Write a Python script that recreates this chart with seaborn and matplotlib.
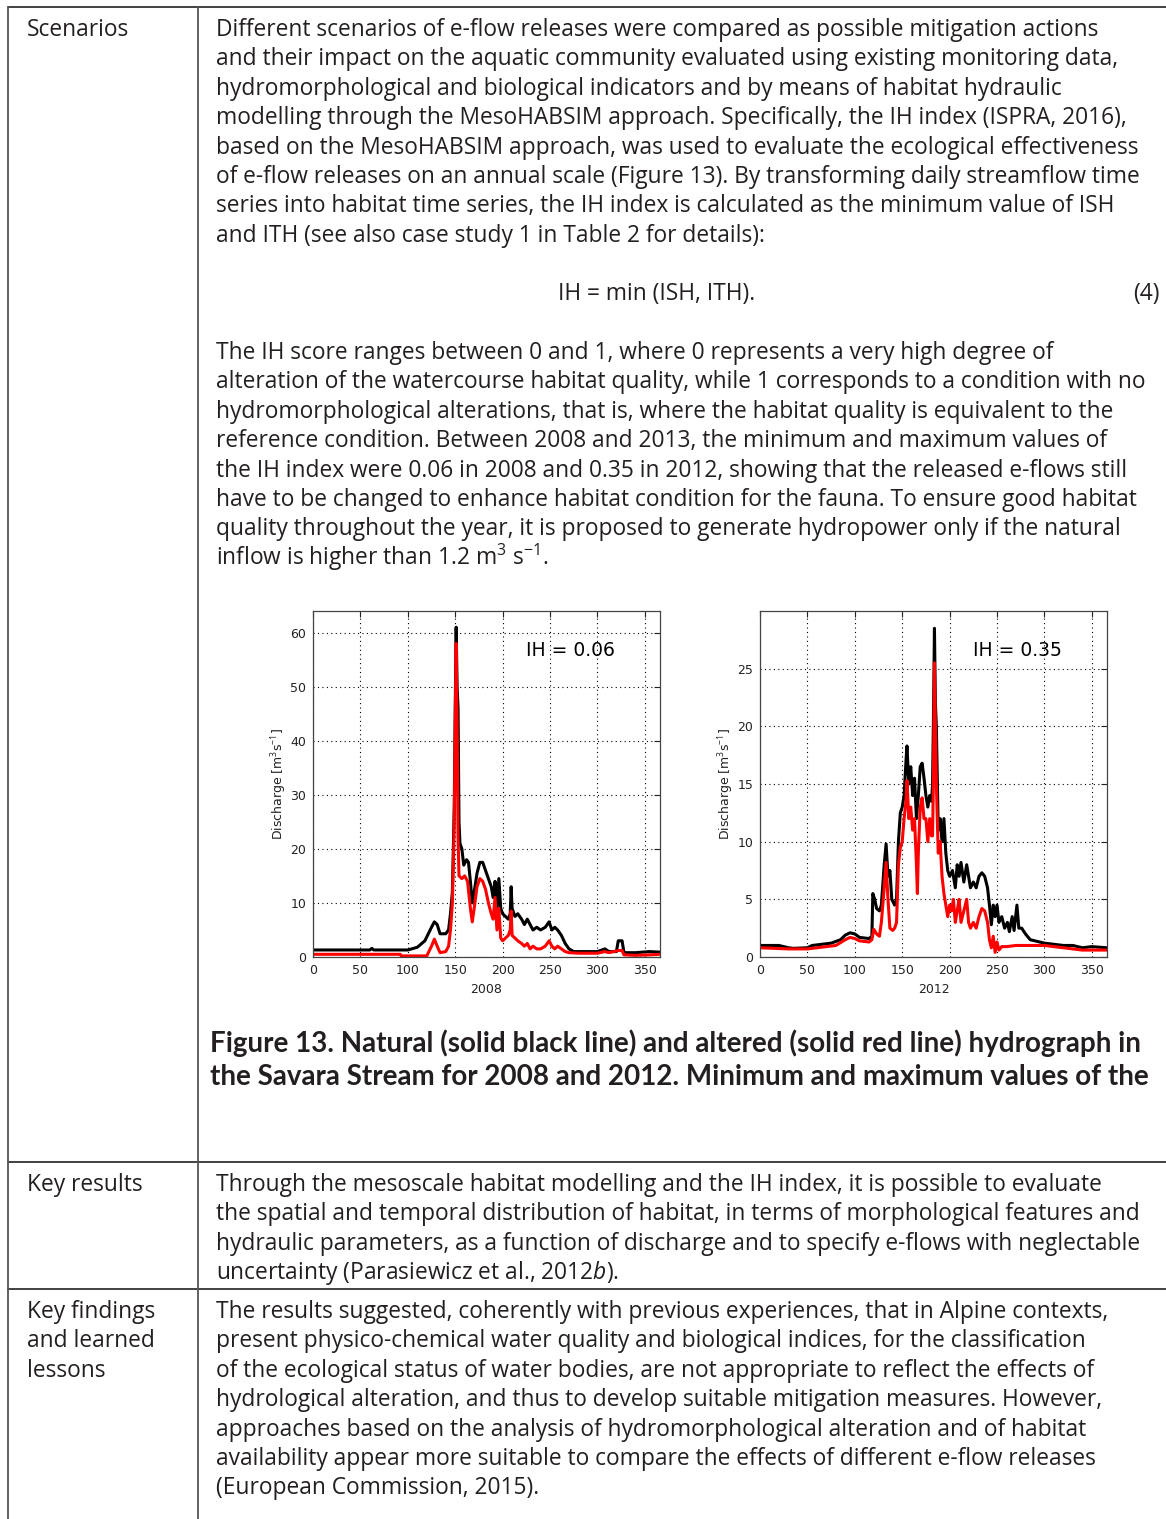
import numpy as np
import pandas as pd
import seaborn as sns
import matplotlib.pyplot as plt
from matplotlib.lines import Line2D

# ---- hydrograph data (day of year, discharge m3/s) ----
days_08_nat = [0, 20, 40, 60, 62, 64, 80, 100, 110, 118, 125, 128, 131, 134, 140, 143, 145, 147, 148,
               149, 150, 151, 152, 153, 154, 155, 157, 159, 162, 164, 166, 168, 170, 173, 176, 179,
               182, 185, 188, 190, 192, 194, 196, 198, 200, 203, 206, 208, 209, 210, 213, 216, 220,
               223, 226, 229, 232, 236, 240, 245, 249, 252, 255, 258, 262, 266, 270, 275, 300, 308,
               312, 320, 322, 326, 328, 340, 355, 366]
q_08_nat = [1.3, 1.3, 1.3, 1.3, 1.6, 1.3, 1.3, 1.3, 1.8, 3.0, 5.5, 6.5, 6.0, 4.3, 4.3, 5.0, 8.0, 12.0, 20.0,
            28.0, 46.0, 61.0, 50.0, 46.0, 25.0, 21.0, 20.0, 17.0, 18.0, 17.5, 14.0, 10.0, 12.0, 15.5, 17.5, 17.5,
            16.0, 14.5, 13.0, 11.0, 14.0, 8.0, 14.5, 9.0, 8.0, 7.5, 7.0, 8.0, 13.0, 9.0, 7.5, 8.0, 7.0,
            6.0, 7.0, 6.0, 5.0, 5.5, 5.0, 5.5, 6.5, 5.0, 5.5, 5.0, 4.0, 2.5, 1.5, 1.0, 1.0, 1.5,
            1.0, 1.0, 3.0, 3.0, 0.8, 0.8, 1.0, 0.9]

days_08_alt = [0, 60, 92, 93, 120, 125, 128, 131, 134, 140, 143, 145, 147, 148, 149, 150, 151, 152, 153,
               154, 157, 160, 163, 166, 168, 170, 173, 176, 179, 182, 185, 188, 190, 192, 194, 196, 198,
               200, 203, 206, 208, 209, 210, 213, 216, 220, 223, 226, 229, 232, 236, 240, 245, 249, 252,
               255, 258, 262, 266, 270, 280, 300, 308, 312, 322, 326, 328, 340, 355, 366]
q_08_alt = [0.5, 0.5, 0.5, 0.2, 0.2, 2.0, 3.3, 2.0, 0.8, 1.0, 2.0, 5.0, 10.0, 17.0, 25.0, 43.0, 58.0, 43.0, 22.0,
            15.0, 14.5, 15.0, 14.0, 9.0, 6.5, 9.0, 13.0, 14.5, 14.0, 12.5, 10.0, 8.0, 7.0, 11.0, 5.0, 9.0, 3.5,
            3.0, 3.5, 4.0, 5.0, 8.5, 4.0, 3.5, 3.0, 2.5, 2.0, 2.5, 1.5, 2.0, 1.5, 1.5, 2.0, 3.0, 2.0,
            1.5, 2.0, 1.5, 1.0, 0.8, 0.7, 0.7, 1.0, 0.8, 1.2, 1.2, 0.4, 0.3, 0.4, 0.5]

days_12_nat = [0, 10, 20, 30, 35, 50, 55, 65, 75, 85, 90, 95, 100, 105, 115, 118, 119, 121, 123, 126, 128,
               131, 133, 135, 137, 139, 142, 144, 146, 148, 150, 152, 154, 155, 157, 159, 161, 163, 165,
               167, 169, 171, 173, 175, 177, 179, 181, 182, 183, 184, 185, 186, 188, 190, 192, 194, 196,
               198, 200, 203, 206, 208, 210, 212, 215, 218, 220, 222, 225, 228, 231, 234, 237, 240, 242,
               244, 246, 248, 250, 252, 255, 258, 261, 263, 266, 268, 271, 273, 276, 280, 285, 290, 295,
               300, 310, 320, 330, 340, 350, 366]
q_12_nat = [1.0, 1.0, 1.0, 0.8, 0.75, 0.8, 1.0, 1.1, 1.2, 1.5, 1.9, 2.1, 2.0, 1.7, 1.6, 1.8, 5.5, 5.0, 4.2, 4.0, 4.5,
            8.0, 9.8, 7.0, 7.5, 5.0, 4.5, 5.0, 10.0, 12.5, 13.0, 14.0, 17.0, 18.3, 15.0, 16.5, 14.0, 15.5, 12.0,
            14.0, 16.5, 16.8, 15.5, 14.0, 13.0, 14.0, 13.5, 15.0, 21.0, 28.5, 22.0, 20.0, 11.0, 12.0, 10.0, 12.0, 9.0,
            7.5, 7.0, 7.5, 6.0, 8.0, 7.0, 8.2, 6.5, 8.0, 7.0, 6.0, 6.5, 6.0, 7.0, 7.3, 7.0, 6.0, 4.5,
            2.8, 4.5, 3.5, 4.5, 3.0, 3.5, 2.5, 3.0, 2.2, 3.5, 2.3, 4.5, 2.5, 2.5, 2.0, 1.5, 1.4, 1.3,
            1.2, 1.1, 1.0, 1.0, 0.8, 0.9, 0.8]

days_12_alt = [0, 30, 50, 60, 80, 90, 95, 100, 105, 115, 118, 120, 123, 126, 128, 131, 133, 135, 137, 140,
               142, 144, 146, 148, 150, 152, 154, 155, 157, 159, 161, 163, 165, 166, 167, 169, 171, 173,
               175, 177, 179, 181, 182, 183, 184, 185, 186, 188, 190, 192, 194, 196, 198, 200, 202, 204,
               206, 208, 210, 212, 215, 218, 220, 222, 225, 228, 231, 234, 237, 240, 242, 244, 246, 248,
               250, 252, 255, 260, 270, 280, 300, 320, 340, 366]
q_12_alt = [0.8, 0.7, 0.7, 0.8, 1.0, 1.5, 1.7, 1.6, 1.4, 1.3, 1.5, 2.4, 2.0, 1.8, 3.0, 6.0, 8.2, 5.0, 2.5, 2.3,
            2.5, 3.0, 8.0, 9.5, 10.0, 12.0, 13.5, 15.3, 12.0, 13.0, 11.0, 12.0, 8.0, 5.5, 9.0, 13.0, 13.8, 12.0,
            12.0, 10.0, 12.0, 10.5, 10.5, 16.0, 25.5, 20.0, 15.0, 9.0, 10.0, 7.0, 5.5, 4.5, 3.5, 4.5, 4.0, 5.0,
            3.0, 4.0, 5.0, 3.0, 4.0, 5.0, 3.0, 2.5, 3.0, 2.5, 3.5, 4.2, 4.0, 3.0, 1.5, 0.8, 1.8, 0.4,
            1.3, 0.6, 0.9, 0.9, 1.0, 1.0, 1.0, 0.8, 0.6, 0.6]

years = ["2008", "2012"]
ih_labels = ["IH = 0.06", "IH = 0.35"]
y_tops = [64, 30]
y_ticks = [list(range(0, 61, 10)), list(range(0, 26, 5))]
x_ticks = list(range(0, 351, 50))

# ---- table text ----
row_labels = [["Scenarios"], ["Key results"], ["Key findings", "and learned", "lessons"]]
para1 = [
    "Different scenarios of e-flow releases were compared as possible mitigation actions",
    "and their impact on the aquatic community evaluated using existing monitoring data,",
    "hydromorphological and biological indicators and by means of habitat hydraulic",
    "modelling through the MesoHABSIM approach. Specifically, the IH index (ISPRA, 2016),",
    "based on the MesoHABSIM approach, was used to evaluate the ecological effectiveness",
    "of e-flow releases on an annual scale (Figure 13). By transforming daily streamflow time",
    "series into habitat time series, the IH index is calculated as the minimum value of ISH",
    "and ITH (see also case study 1 in Table 2 for details):",
]
equation = "IH = min (ISH, ITH)."
para2 = [
    "The IH score ranges between 0 and 1, where 0 represents a very high degree of",
    "alteration of the watercourse habitat quality, while 1 corresponds to a condition with no",
    "hydromorphological alterations, that is, where the habitat quality is equivalent to the",
    "reference condition. Between 2008 and 2013, the minimum and maximum values of",
    "the IH index were 0.06 in 2008 and 0.35 in 2012, showing that the released e-flows still",
    "have to be changed to enhance habitat condition for the fauna. To ensure good habitat",
    "quality throughout the year, it is proposed to generate hydropower only if the natural",
    r"inflow is higher than 1.2 m$^{3}$ s$^{-1}$.",
]
caption = [
    "Figure 13. Natural (solid black line) and altered (solid red line) hydrograph in",
    "the Savara Stream for 2008 and 2012. Minimum and maximum values of the",
]
results = [
    "Through the mesoscale habitat modelling and the IH index, it is possible to evaluate",
    "the spatial and temporal distribution of habitat, in terms of morphological features and",
    "hydraulic parameters, as a function of discharge and to specify e-flows with neglectable",
    r"uncertainty (Parasiewicz et al., 2012$b$).",
]
findings = [
    "The results suggested, coherently with previous experiences, that in Alpine contexts,",
    "present physico-chemical water quality and biological indices, for the classification",
    "of the ecological status of water bodies, are not appropriate to reflect the effects of",
    "hydrological alteration, and thus to develop suitable mitigation measures. However,",
    "approaches based on the analysis of hydromorphological alteration and of habitat",
    "availability appear more suitable to compare the effects of different e-flow releases",
    "(European Commission, 2015).",
]

sns.set_theme(style="white")
plt.rcParams["font.family"] = ["DejaVu Sans"]
plt.rcParams["mathtext.fontset"] = "custom"
plt.rcParams["mathtext.rm"] = "Open Sans"
plt.rcParams["mathtext.it"] = "Open Sans:italic"

W, H = 1166, 1519
fig = plt.figure(figsize=(W / 100, H / 100), dpi=100)
fig.patch.set_facecolor("white")

def put(x, y, s, **kw):
    fig.text(x / W, 1 - y / H, s, **kw)

def hline(x0, x1, y):
    fig.add_artist(Line2D([x0 / W, x1 / W], [1 - y / H, 1 - y / H], transform=fig.transFigure,
                          color="#333333", lw=1.3))

def vline(x, y0, y1):
    fig.add_artist(Line2D([x / W, x / W], [1 - y0 / H, 1 - y1 / H], transform=fig.transFigure,
                          color="#555555", lw=1.3))

# table grid
hline(8, W, 7)
hline(8, W, 1162)
hline(8, W, 1289)
vline(8, 7, H)
vline(198, 7, H)

txt = dict(family=["Open Sans", "DejaVu Sans"], fontsize=16.4, color="#231f20", va="baseline")
step = 29.4
for i, s in enumerate(row_labels[0]):
    put(27, 36 + i * step, s, **txt)
for i, s in enumerate(row_labels[1]):
    put(27, 1191 + i * step, s, **txt)
for i, s in enumerate(row_labels[2]):
    put(27, 1318 + i * step, s, **txt)

for i, s in enumerate(para1):
    put(216, 36 + i * step, s, **txt)
put(657, 300, equation, ha="center", **txt)
put(1160, 300, "(4)", ha="right", **txt)
for i, s in enumerate(para2):
    put(216, 359 + i * step, s, **txt)
for i, s in enumerate(results):
    put(216, 1191 + i * step, s, **txt)
for i, s in enumerate(findings):
    put(216, 1318 + i * step, s, **txt)

cap = dict(family=["Lato", "DejaVu Sans"], fontsize=20.0, fontweight="bold",
           color="#231f20", va="baseline")
for i, s in enumerate(caption):
    put(210, 1052 + i * 33, s, **cap)

# hydrograph panels
series = [
    (days_08_nat, q_08_nat, days_08_alt, q_08_alt),
    (days_12_nat, q_12_nat, days_12_alt, q_12_alt),
]
for k, left in enumerate([313, 760]):
    ax = fig.add_axes([left / W, 1 - 957 / H, (660 - 313) / W, (957 - 611) / H])
    dn, qn, da, qa = series[k]
    nat = pd.DataFrame({"day": dn, "q": qn})
    alt = pd.DataFrame({"day": da, "q": qa})
    sns.lineplot(data=nat, x="day", y="q", ax=ax, color="black", lw=2.2, estimator=None, sort=False)
    sns.lineplot(data=alt, x="day", y="q", ax=ax, color="#ff0000", lw=2.2, estimator=None, sort=False)
    ax.set_xlim(0, 366)
    ax.set_ylim(0, y_tops[k])
    ax.set_xticks(x_ticks)
    ax.set_yticks(y_ticks[k])
    ax.grid(True, color="black", linestyle=(0, (1, 3)), linewidth=0.8)
    ax.tick_params(direction="in", top=True, right=True, length=4, width=0.8,
                   labelsize=9, colors="#222222", pad=5)
    for sp in ax.spines.values():
        sp.set_color("#444444")
        sp.set_linewidth(0.9)
    ax.set_xlabel(years[k], fontsize=9, color="#222222", labelpad=4)
    ax.set_ylabel(r"Discharge [m$^{3}$s$^{-1}$]", fontsize=9, color="#222222", labelpad=1,
                  family="DejaVu Sans")
    ax.text(0.87, 0.887, ih_labels[k], transform=ax.transAxes, ha="right", va="center",
            fontsize=13.5, color="black")

fig.savefig("out.png", dpi=100, facecolor="white")
